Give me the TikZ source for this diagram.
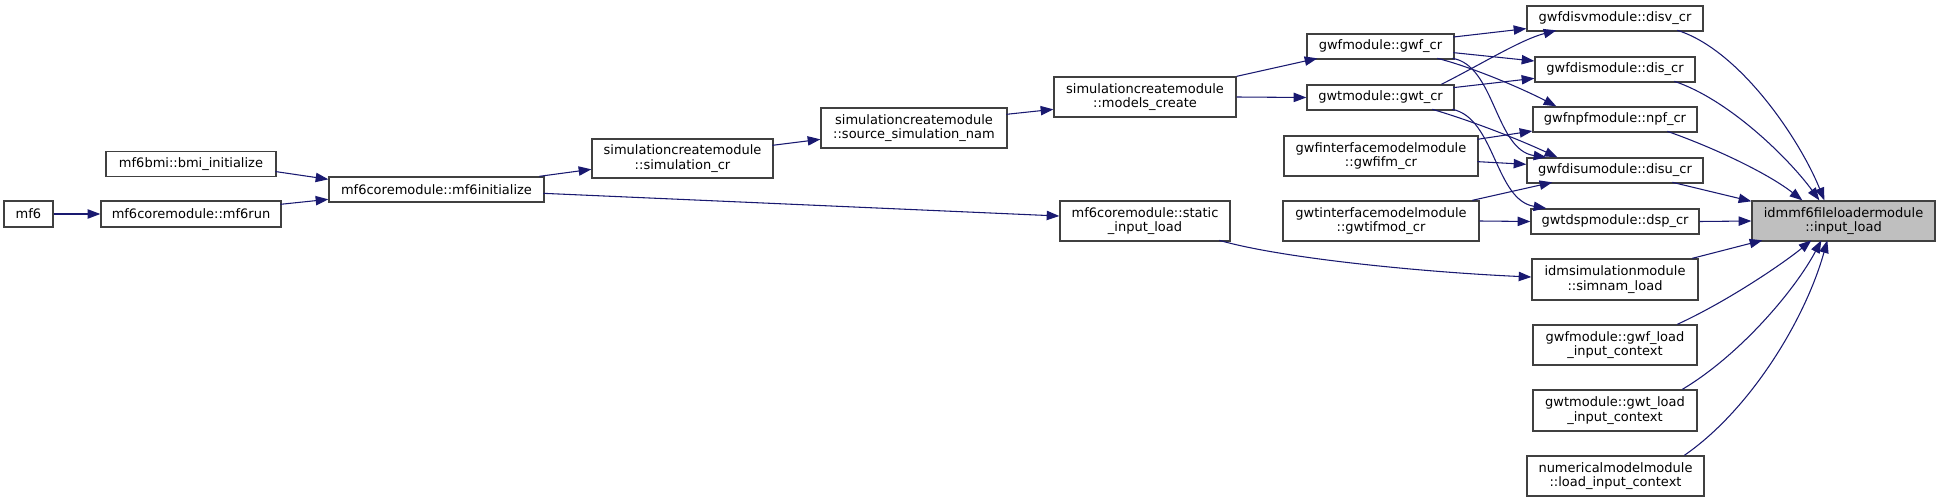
\documentclass[tikz,border=0pt]{standalone}
\usepackage{fontspec}
\setmainfont{DejaVu Sans}
\usetikzlibrary{arrows.meta,calc}
\definecolor{edgec}{HTML}{191970}
\definecolor{boxc}{HTML}{404040}
\definecolor{hl}{HTML}{BFBFBF}
\begin{document}
\begin{tikzpicture}[x=0.75pt,y=-0.75pt,
  box/.style={draw=boxc,line width=1pt,fill=white,inner sep=0pt,align=center,
    font=\fontsize{9.75}{10.75}\selectfont},
  e/.style={draw=edgec,line width=0.8pt,-{Triangle[length=9.5pt,width=7pt]}}]
\useasboundingbox (0,0) rectangle (1940,502);
% nodes
\node[box,minimum width={49*0.75pt},minimum height={26*0.75pt}] (mf6) at (28.5,214) {mf6};
\node[box,minimum width={180*0.75pt},minimum height={26*0.75pt}] (run) at (191,214) {mf6coremodule::mf6run};
\node[box,minimum width={170*0.75pt},minimum height={25*0.75pt}] (bmi) at (191,164) {mf6bmi::bmi\_initialize};
\node[box,minimum width={215*0.75pt},minimum height={25*0.75pt}] (init) at (436.5,189.5) {mf6coremodule::mf6initialize};
\node[box,minimum width={181*0.75pt},minimum height={39*0.75pt}] (simcr) at (682.5,158.5) {simulationcreatemodule\\::simulation\_cr};
\node[box,minimum width={186*0.75pt},minimum height={40*0.75pt}] (srcnam) at (914,128) {simulationcreatemodule\\::source\_simulation\_nam};
\node[box,minimum width={182*0.75pt},minimum height={40*0.75pt}] (models) at (1145,97) {simulationcreatemodule\\::models\_create};
\node[box,minimum width={170*0.75pt},minimum height={40*0.75pt}] (static) at (1145,221) {mf6coremodule::static\\\_input\_load};
\node[box,minimum width={147*0.75pt},minimum height={25*0.75pt}] (gwfcr) at (1380.5,46.5) {gwfmodule::gwf\_cr};
\node[box,minimum width={147*0.75pt},minimum height={25*0.75pt}] (gwtcr) at (1380.5,97.5) {gwtmodule::gwt\_cr};
\node[box,minimum width={194*0.75pt},minimum height={40*0.75pt}] (gwfifm) at (1381,156) {gwfinterfacemodelmodule\\::gwfifm\_cr};
\node[box,minimum width={196*0.75pt},minimum height={40*0.75pt}] (gwtifmod) at (1381,221) {gwtinterfacemodelmodule\\::gwtifmod\_cr};
\node[box,minimum width={176*0.75pt},minimum height={25*0.75pt}] (disv) at (1615,18.5) {gwfdisvmodule::disv\_cr};
\node[box,minimum width={160*0.75pt},minimum height={25*0.75pt}] (dis) at (1615,69.5) {gwfdismodule::dis\_cr};
\node[box,minimum width={164*0.75pt},minimum height={25*0.75pt}] (npf) at (1615,119.5) {gwfnpfmodule::npf\_cr};
\node[box,minimum width={176*0.75pt},minimum height={25*0.75pt}] (disu) at (1615,170.5) {gwfdisumodule::disu\_cr};
\node[box,minimum width={168*0.75pt},minimum height={25*0.75pt}] (dsp) at (1615,221.5) {gwtdspmodule::dsp\_cr};
\node[box,minimum width={166*0.75pt},minimum height={41*0.75pt}] (simnam) at (1615,279.5) {idmsimulationmodule\\::simnam\_load};
\node[box,minimum width={164*0.75pt},minimum height={40*0.75pt}] (gwfload) at (1615,345) {gwfmodule::gwf\_load\\\_input\_context};
\node[box,minimum width={164*0.75pt},minimum height={41*0.75pt}] (gwtload) at (1615,410.5) {gwtmodule::gwt\_load\\\_input\_context};
\node[box,minimum width={177*0.75pt},minimum height={40*0.75pt}] (loadctx) at (1615.5,476) {numericalmodelmodule\\::load\_input\_context};
\node[box,fill=hl,minimum width={183*0.75pt},minimum height={40*0.75pt}] (input) at (1843.5,221) {idmmf6fileloadermodule\\::input\_load};
% edges
\draw[e] (mf6.east) -- (run.west);
\draw[e] ($(bmi.north west)+(170,20.7)$) -- ($(init.north west)+(0,3)$);
\draw[e] ($(run.north west)+(180,4)$) -- ($(init.north west)+(0,23)$);
\draw[e] ($(init.north west)+(211,0)$) -- ($(simcr.north west)+(0,31)$);
\draw[e] ($(init.north west)+(215,17)$) -- ($(static.north west)+(0,15.7)$);
\draw[e] ($(simcr.north west)+(181,7)$) -- ($(srcnam.north west)+(0,32)$);
\draw[e] ($(srcnam.north west)+(186,7)$) -- ($(models.north west)+(0,33)$);
\draw[e] (models.north east) -- ($(gwfcr.north west)+(11,25)$);
\draw[e] (models.east) -- (gwtcr.west);
\draw[e] ($(gwfcr.north west)+(147,3.7)$) -- ($(disv.north west)+(0,23.3)$);
\draw[e] ($(gwfcr.north west)+(147,19.3)$) -- ($(dis.north west)+(0,4.7)$);
\draw[e] ($(gwfcr.north west)+(131,25)$) .. controls (1475,68) and (1525,90) .. ($(npf.north west)+(24,0)$);
\draw[e] ($(gwfcr.north west)+(146,25)$) .. controls (1495,65) and (1495,150) .. ($(disu.north west)+(20,0)$);
\draw[e] ($(gwtcr.north west)+(135,0)$) .. controls (1480,65) and (1520,40) .. ($(disv.north west)+(30,25)$);
\draw[e] ($(gwtcr.north west)+(147,3.3)$) -- ($(dis.north west)+(0,22)$);
\draw[e] ($(gwtcr.north west)+(126,25)$) .. controls (1475,122) and (1520,140) .. ($(disu.north west)+(31,0)$);
\draw[e] ($(gwtcr.north west)+(146,25)$) .. controls (1495,118) and (1495,200) .. ($(dsp.north west)+(16,0)$);
\draw[e] ($(gwfifm.north west)+(194,4)$) -- ($(npf.north west)+(0,24.7)$);
\draw[e] ($(gwfifm.north west)+(194,26.3)$) -- ($(disu.north west)+(0,7)$);
\draw[e] ($(gwtifmod.north west)+(190,0)$) -- ($(disu.north west)+(26,25)$);
\draw[e] (gwtifmod.east) -- (dsp.west);
\draw[e] ($(static.north west)+(160,40)$) .. controls (1280,258) and (1420,272) .. ($(simnam.north west)+(0,18.7)$);
\draw[e] ($(disv.north west)+(151,25)$) .. controls (1740,50) and (1800,140) .. ($(input.north west)+(73,0)$);
\draw[e] ($(dis.north west)+(140,25)$) .. controls (1730,100) and (1790,160) .. ($(input.north west)+(68,0)$);
\draw[e] ($(npf.north west)+(135,25)$) .. controls (1720,150) and (1770,175) .. ($(input.north west)+(51,0)$);
\draw[e] ($(disu.north west)+(146,25)$) -- ($(input.north west)+(0,1)$);
\draw[e] (dsp.east) -- (input.west);
\draw[e] ($(simnam.north west)+(161,0)$) -- ($(input.north west)+(11,40)$);
\draw[e] ($(gwfload.north west)+(145,0)$) .. controls (1730,300) and (1785,262) .. ($(input.north west)+(60,40)$);
\draw[e] ($(gwtload.north west)+(150,0)$) .. controls (1740,355) and (1795,290) .. ($(input.north west)+(70,40)$);
\draw[e] ($(loadctx.north west)+(158,0)$) .. controls (1750,410) and (1805,320) .. ($(input.north west)+(76,40)$);
\end{tikzpicture}
\end{document}
